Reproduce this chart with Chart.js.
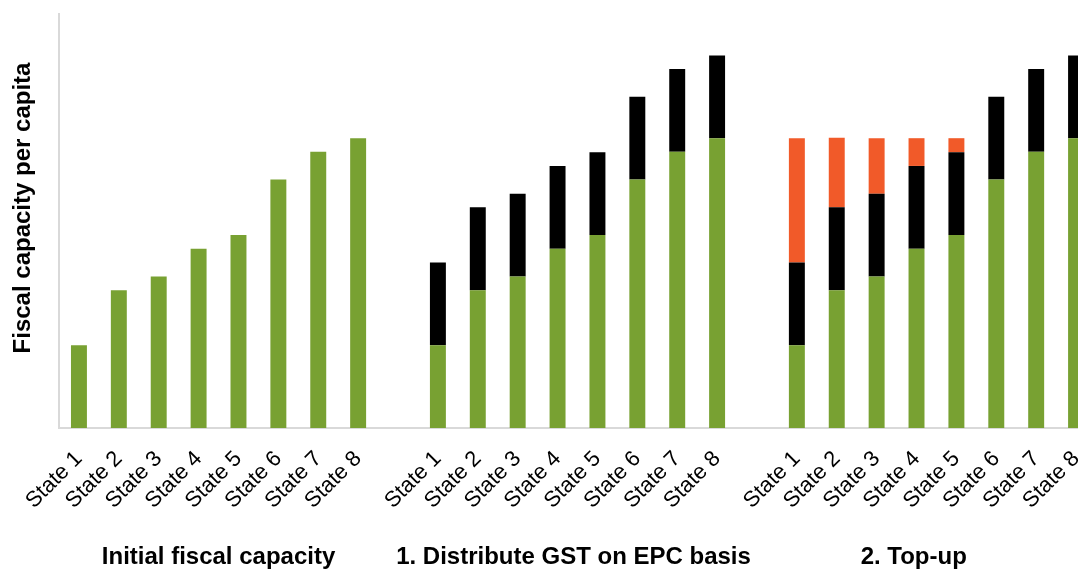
<!DOCTYPE html>
<html>
<head>
<meta charset="utf-8">
<script src="https://cdn.jsdelivr.net/npm/chart.js@4.4.1/dist/chart.umd.min.js"></script>
<style>
  html, body { margin: 0; padding: 0; background: #ffffff; overflow: hidden; }
  #wrap { width: 1078px; height: 569px; overflow: hidden; }
  canvas { display: block; }
</style>
</head>
<body>
<div id="wrap"><canvas id="chart" width="1096" height="569"></canvas></div>
<script>
// State labels repeated in each of the three panels
const states = ['State 1', 'State 2', 'State 3', 'State 4', 'State 5', 'State 6', 'State 7', 'State 8'];

// Initial fiscal capacity per capita (index units)
const initialCapacity = [20.0, 33.3, 36.6, 43.3, 46.6, 60.0, 66.7, 70.0];

// GST distributed on an equal-per-capita basis
const gstShare = [20.0, 20.0, 20.0, 20.0, 20.0, 20.0, 20.0, 20.0];

// Top-up paid to lift the lower states to the benchmark
const topUp = [30.0, 16.8, 13.4, 6.7, 3.4, 0, 0, 0];

// Panel headings shown under the axis
const panelTitles = ['Initial fiscal capacity', '1. Distribute GST on EPC basis', '2. Top-up'];

const yTitle = 'Fiscal capacity per capita';

// Three panels separated by one empty category slot
const gap = [null];
const none = states.map(() => null);
const labels = [...states, '', ...states, '', ...states];
const greenData = [...initialCapacity, ...gap, ...initialCapacity, ...gap, ...initialCapacity];
const blackData = [...none, ...gap, ...gstShare, ...gap, ...gstShare];
const orangeData = [...none, ...gap, ...none, ...gap, ...topUp];

const FONT = '"Liberation Sans", Arial, sans-serif';

// Draws the rotated y-axis title and the panel headings
const annotations = {
  id: 'annotations',
  afterDraw(chart) {
    const ctx = chart.ctx;
    const x = chart.scales.x;
    ctx.save();
    ctx.fillStyle = '#000000';
    ctx.font = 'bold 24px ' + FONT;
    ctx.textAlign = 'center';
    ctx.textBaseline = 'middle';
    ctx.translate(23, 208);
    ctx.rotate(-Math.PI / 2);
    ctx.fillText(yTitle, 0, 0);
    ctx.restore();

    ctx.save();
    ctx.fillStyle = '#000000';
    ctx.font = 'bold 24px ' + FONT;
    ctx.textAlign = 'center';
    ctx.textBaseline = 'alphabetic';
    const anchors = [3.5, 12.4, 20.93];
    panelTitles.forEach((t, i) => {
      ctx.fillText(t, x.getPixelForValue(anchors[i]), 564);
    });
    ctx.restore();
  }
};

new Chart(document.getElementById('chart'), {
  type: 'bar',
  data: {
    labels: labels,
    datasets: [
      { label: 'Initial fiscal capacity', data: greenData, backgroundColor: '#78A132', borderWidth: 0 },
      { label: 'GST (EPC basis)', data: blackData, backgroundColor: '#000000', borderWidth: 0 },
      { label: 'Top-up', data: orangeData, backgroundColor: '#F15A29', borderWidth: 0 }
    ]
  },
  options: {
    responsive: false,
    animation: false,
    devicePixelRatio: 1,
    layout: { padding: { left: 59, top: 14, right: 0, bottom: 0 } },
    datasets: { bar: { barPercentage: 0.4, categoryPercentage: 1.0 } },
    plugins: { legend: { display: false }, tooltip: { enabled: false } },
    scales: {
      x: {
        stacked: true,
        grid: { display: false, drawTicks: false },
        border: { display: true, color: '#d9d9d9', width: 2 },
        ticks: {
          autoSkip: false,
          maxRotation: 45,
          minRotation: 45,
          padding: 18,
          color: '#000000',
          font: { family: FONT, size: 22 }
        },
        afterFit(scale) {
          scale.height = 141;
          scale.paddingLeft = 0;
          scale.paddingRight = 0;
        }
      },
      y: {
        stacked: true,
        min: 0,
        max: 100,
        grid: { display: false, drawTicks: false },
        border: { display: true, color: '#d9d9d9', width: 2 },
        ticks: { display: false },
        afterFit(scale) { scale.width = 0; }
      }
    }
  },
  plugins: [annotations]
});
</script>
</body>
</html>
